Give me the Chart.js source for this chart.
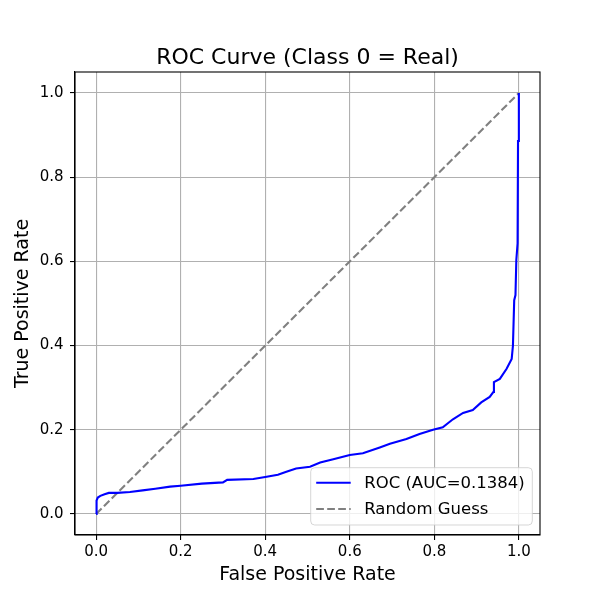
<!DOCTYPE html>
<html>
<head>
<meta charset="utf-8">
<script src="https://cdn.jsdelivr.net/npm/chart.js@4.4.1/dist/chart.umd.min.js"></script>
<style>
  html, body { margin: 0; padding: 0; background: #fff; }
  #wrap { width: 600px; height: 600px; }
</style>
</head>
<body>
<div id="wrap"><canvas id="c" width="600" height="600"></canvas></div>
<script>
const titleText = "ROC Curve (Class 0 = Real)";
const xLabel = "False Positive Rate";
const yLabel = "True Positive Rate";
const rocLabel = "ROC (AUC=0.1384)";
const randomLabel = "Random Guess";

const tickValues = [0.0, 0.2, 0.4, 0.6, 0.8, 1.0];

const rocFpr = [0, 0, 0.002, 0.004, 0.01, 0.02, 0.03, 0.05, 0.08, 0.11, 0.14, 0.175, 0.2, 0.25, 0.3, 0.31,
  0.372, 0.4, 0.43, 0.45, 0.473, 0.506, 0.53, 0.561, 0.6, 0.631, 0.671, 0.695, 0.734, 0.765, 0.797,
  0.82, 0.844, 0.868, 0.891, 0.911, 0.931, 0.94, 0.941, 0.955, 0.971, 0.983, 0.986, 0.989, 0.992,
  0.994, 0.997, 0.998, 1.0];
const rocTpr = [0, 0.02, 0.032, 0.039, 0.043, 0.047, 0.05, 0.05, 0.052, 0.056, 0.06, 0.065, 0.067, 0.072, 0.075, 0.081,
  0.083, 0.088, 0.093, 0.1, 0.108, 0.112, 0.122, 0.13, 0.14, 0.144, 0.158, 0.167, 0.178, 0.19, 0.2,
  0.206, 0.225, 0.24, 0.247, 0.265, 0.278, 0.29, 0.313, 0.321, 0.345, 0.368, 0.4, 0.508, 0.52,
  0.603, 0.643, 0.886, 1.0];

const randomFpr = [0, 1];
const randomTpr = [0, 1];

const FONT = "'DejaVu Sans', sans-serif";

const framePlugin = {
  id: 'frame',
  afterDatasetsDraw(chart) {
    const {ctx, chartArea: a} = chart;
    ctx.save();
    ctx.strokeStyle = '#000';
    ctx.lineWidth = 1.1;
    ctx.strokeRect(a.left, a.top, a.right - a.left, a.bottom - a.top);
    ctx.restore();
  },
  afterDraw(chart) {
    const {ctx, chartArea: a} = chart;
    ctx.save();
    // title
    ctx.fillStyle = '#000';
    ctx.font = "22px " + FONT;
    ctx.textAlign = 'center';
    ctx.textBaseline = 'alphabetic';
    ctx.fillText(titleText, (a.left + a.right) / 2, a.top - 8.5);

    // legend
    const bx = a.left + 235.7, by = a.bottom - 67.3, bw = 221.6, bh = 57.3, r = 4;
    ctx.beginPath();
    ctx.moveTo(bx + r, by);
    ctx.lineTo(bx + bw - r, by);
    ctx.quadraticCurveTo(bx + bw, by, bx + bw, by + r);
    ctx.lineTo(bx + bw, by + bh - r);
    ctx.quadraticCurveTo(bx + bw, by + bh, bx + bw - r, by + bh);
    ctx.lineTo(bx + r, by + bh);
    ctx.quadraticCurveTo(bx, by + bh, bx, by + bh - r);
    ctx.lineTo(bx, by + r);
    ctx.quadraticCurveTo(bx, by, bx + r, by);
    ctx.closePath();
    ctx.fillStyle = 'rgba(255,255,255,0.8)';
    ctx.fill();
    ctx.strokeStyle = 'rgba(204,204,204,0.8)';
    ctx.lineWidth = 1;
    ctx.stroke();

    const ds = chart.data.datasets;
    const rows = [by + 15, by + 41.3];
    ds.forEach((d, i) => {
      const y = rows[i];
      ctx.beginPath();
      ctx.setLineDash(d.borderDash || []);
      ctx.strokeStyle = d.borderColor;
      ctx.lineWidth = d.borderWidth;
      ctx.moveTo(bx + 5.5, y);
      ctx.lineTo(bx + 40, y);
      ctx.stroke();
      ctx.setLineDash([]);
      ctx.fillStyle = '#000';
      ctx.font = "16.5px " + FONT;
      ctx.textAlign = 'left';
      ctx.textBaseline = 'middle';
      ctx.fillText(d.label, bx + 53.5, y + 1);
    });
    ctx.restore();
  }
};

function fixTicks(scale) {
  scale.ticks = tickValues.map(v => ({ value: v }));
}

new Chart(document.getElementById('c'), {
  type: 'line',
  data: {
    datasets: [
      {
        label: rocLabel,
        data: rocFpr.map((x, i) => ({ x: x, y: rocTpr[i] })),
        borderColor: '#0000ff',
        borderWidth: 2.1,
        pointRadius: 0,
        tension: 0,
        fill: false
      },
      {
        label: randomLabel,
        data: randomFpr.map((x, i) => ({ x: x, y: randomTpr[i] })),
        borderColor: '#808080',
        borderWidth: 2.1,
        borderDash: [7.7, 3.3],
        pointRadius: 0,
        tension: 0,
        fill: false
      }
    ]
  },
  options: {
    responsive: false,
    animation: false,
    devicePixelRatio: 1,
    layout: { padding: { top: 72, right: 60, bottom: 0, left: 0 } },
    plugins: {
      legend: { display: false },
      title: { display: false },
      tooltip: { enabled: false }
    },
    scales: {
      x: {
        type: 'linear',
        min: -0.05,
        max: 1.05,
        afterBuildTicks: fixTicks,
        afterFit(s) { s.height = 65; },
        grid: { color: '#b0b0b0', lineWidth: 1.1, drawTicks: true, tickLength: 5, tickColor: '#000', tickWidth: 1.1 },
        border: { display: true, color: '#000', width: 1.1 },
        ticks: {
          autoSkip: false, maxRotation: 0, padding: 3, color: '#000',
          font: { family: FONT, size: 15 },
          callback: v => Number(v).toFixed(1)
        },
        title: {
          display: true, text: xLabel, color: '#000',
          font: { family: FONT, size: 19 },
          padding: { top: 0, bottom: 13.6 }
        }
      },
      y: {
        type: 'linear',
        min: -0.05,
        max: 1.05,
        afterBuildTicks: fixTicks,
        afterFit(s) { s.width = 75; },
        grid: { color: '#b0b0b0', lineWidth: 1.1, drawTicks: true, tickLength: 5, tickColor: '#000', tickWidth: 1.1 },
        border: { display: true, color: '#000', width: 1.1 },
        ticks: {
          autoSkip: false, padding: 6.5, color: '#000',
          font: { family: FONT, size: 15 },
          callback: v => Number(v).toFixed(1)
        },
        title: {
          display: true, text: yLabel, color: '#000',
          font: { family: FONT, size: 19 },
          padding: { top: 11.6, bottom: 0 }
        }
      }
    }
  },
  plugins: [framePlugin]
});
</script>
</body>
</html>
